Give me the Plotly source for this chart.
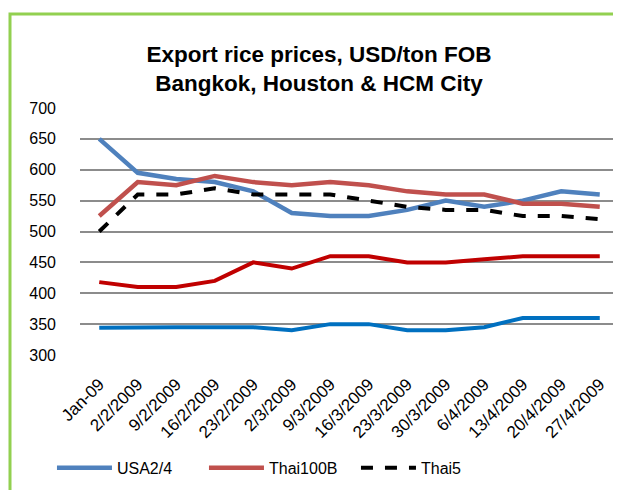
import plotly.graph_objects as go

# Categorías (semanas) y precios USD/ton
fechas = ['Jan-09', '2/2/2009', '9/2/2009', '16/2/2009', '23/2/2009', '2/3/2009', '9/3/2009',
          '16/3/2009', '23/3/2009', '30/3/2009', '6/4/2009', '13/4/2009', '20/4/2009', '27/4/2009']
usa2_4 = [650, 595, 585, 580, 565, 530, 525, 525, 535, 550, 540, 550, 565, 560]
thai100b = [525, 580, 575, 590, 580, 575, 580, 575, 565, 560, 560, 545, 545, 540]
thai5 = [500, 560, 560, 570, 560, 560, 560, 550, 540, 535, 535, 525, 525, 520]
viet5 = [418, 410, 410, 420, 450, 440, 460, 460, 450, 450, 455, 460, 460, 460]
viet25 = [344, 345, 345, 345, 345, 340, 350, 350, 340, 340, 345, 360, 360, 360]

fig = go.Figure()
fig.add_trace(go.Scatter(x=fechas, y=usa2_4, name='USA2/4', mode='lines',
                         line=dict(color='#4f81bd', width=4.5)))
fig.add_trace(go.Scatter(x=fechas, y=thai100b, name='Thai100B', mode='lines',
                         line=dict(color='#c0504d', width=4.5)))
fig.add_trace(go.Scatter(x=fechas, y=thai5, name='Thai5', mode='lines',
                         line=dict(color='#000000', width=4, dash='dash')))
fig.add_trace(go.Scatter(x=fechas, y=viet5, name='Viet5', mode='lines', showlegend=False,
                         line=dict(color='#c00000', width=4)))
fig.add_trace(go.Scatter(x=fechas, y=viet25, name='Viet25', mode='lines', showlegend=False,
                         line=dict(color='#0070c0', width=4)))

# la página desplaza el gráfico 8 px (margen del body)
fig.update_layout(
    width=621, height=490,
    margin=dict(l=72, r=10, t=100, b=143, autoexpand=False),
    paper_bgcolor='white', plot_bgcolor='white',
    font=dict(family='Liberation Sans, Arial', size=14, color='#000000'),
    title=dict(text='<b>Export rice prices, USD/ton FOB<br>Bangkok, Houston & HCM City</b>',
               x=311 / 621, xanchor='center', y=1 - 54 / 490, yanchor='middle',
               font=dict(size=22.5), automargin=False),
    legend=dict(orientation='h', x=-0.052, xanchor='left', y=-0.457, yanchor='middle',
                font=dict(size=16), itemwidth=55, entrywidth=82, tracegroupgap=0),
    showlegend=True,
)
fig.update_yaxes(range=[300, 700], dtick=50, showgrid=True, gridcolor='#8c8c8c', gridwidth=1.5,
                 zeroline=False, showline=False, ticks='', ticklabelstandoff=23,
                 tickfont=dict(size=16), automargin=False)
fig.update_xaxes(showgrid=False, zeroline=False, showline=False, tickangle=-45,
                 tickfont=dict(size=17), ticklabelstandoff=15,
                 range=[-0.5, 13.5], automargin=False)

# Borde verde del gráfico
fig.add_shape(type='rect', xref='paper', yref='paper',
              x0=(2 - 72) / 539, x1=1.2, y0=-1, y1=(347 - 6) / 247,
              line=dict(color='#92d050', width=3), layer='below')

fig.write_html('out.html')
